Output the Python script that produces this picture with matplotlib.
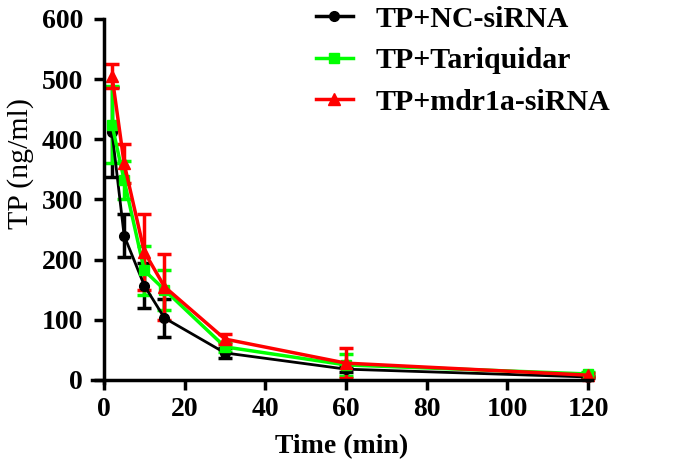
import numpy as np
import matplotlib.pyplot as plt
from matplotlib.lines import Line2D

# sampling times (min)
time_min = [2, 5, 10, 15, 30, 60, 120]

# TP concentration (ng/ml), mean and SD per group
nc_mean = [412, 240, 157, 103, 45, 18, 5]
nc_sd = [75, 36, 38, 32, 8, 5, 2]

tq_mean = [424, 332, 182, 150, 55, 25, 10]
tq_sd = [64, 32, 40, 33, 8, 18, 3]

md_mean = [505, 360, 213, 155, 68, 28, 8]
md_sd = [20, 33, 63, 55, 9, 25, 3]

labels = ['TP+NC-siRNA', 'TP+Tariquidar', 'TP+mdr1a-siRNA']

plt.rcParams['font.family'] = ['Liberation Serif', 'DejaVu Serif']

fig = plt.figure(figsize=(6.75, 4.75), dpi=100)
ax = fig.add_axes([0.1361, 0.1937, 0.741, 0.7663])

series = [
    (nc_mean, nc_sd, 'black', 'o', 7, 2.0),
    (tq_mean, tq_sd, '#00ff00', 's', 7, 2.5),
    (md_mean, md_sd, '#ff0000', '^', 9, 2.5),
]
handles = []
for m, s, c, mk, ms, lw in series:
    ax.errorbar(time_min, m, yerr=s, color=c, marker=mk, markersize=ms,
                linewidth=lw, elinewidth=2.5, capsize=5, capthick=2.5,
                clip_on=False)
    handles.append(Line2D([], [], color=c, marker=mk, markersize=ms, linewidth=2.5))

ax.set_xlim(-3, 121)
ax.set_ylim(-5, 600)
ax.spines['left'].set_position(('data', 0))
ax.spines['bottom'].set_position(('data', 0))
ax.spines['right'].set_visible(False)
ax.spines['top'].set_visible(False)
for sp in ['left', 'bottom']:
    ax.spines[sp].set_linewidth(2.5)

ax.set_xticks(np.arange(0, 121, 20))
ax.set_yticks(np.arange(0, 601, 100))
ax.tick_params(direction='out', length=7, width=2.5, labelsize=20)
ax.tick_params(axis='y', pad=8)
ax.tick_params(axis='x', pad=5)
for t in ax.get_xticklabels() + ax.get_yticklabels():
    t.set_fontweight('bold')

ax.set_xlabel('Time (min)', fontsize=20, fontweight='bold', labelpad=9)
ax.set_ylabel('TP (ng/ml)', fontsize=21.5)
ax.yaxis.set_label_coords(-0.115, 0.604)

ax.legend(handles, labels, loc='upper left', bbox_to_anchor=(0.394, 1.11), frameon=False,
          prop={'weight': 'bold', 'size': 21.5}, handlelength=1.25,
          handletextpad=0.75, labelspacing=0.48)

fig.savefig('out.png', dpi=100)
